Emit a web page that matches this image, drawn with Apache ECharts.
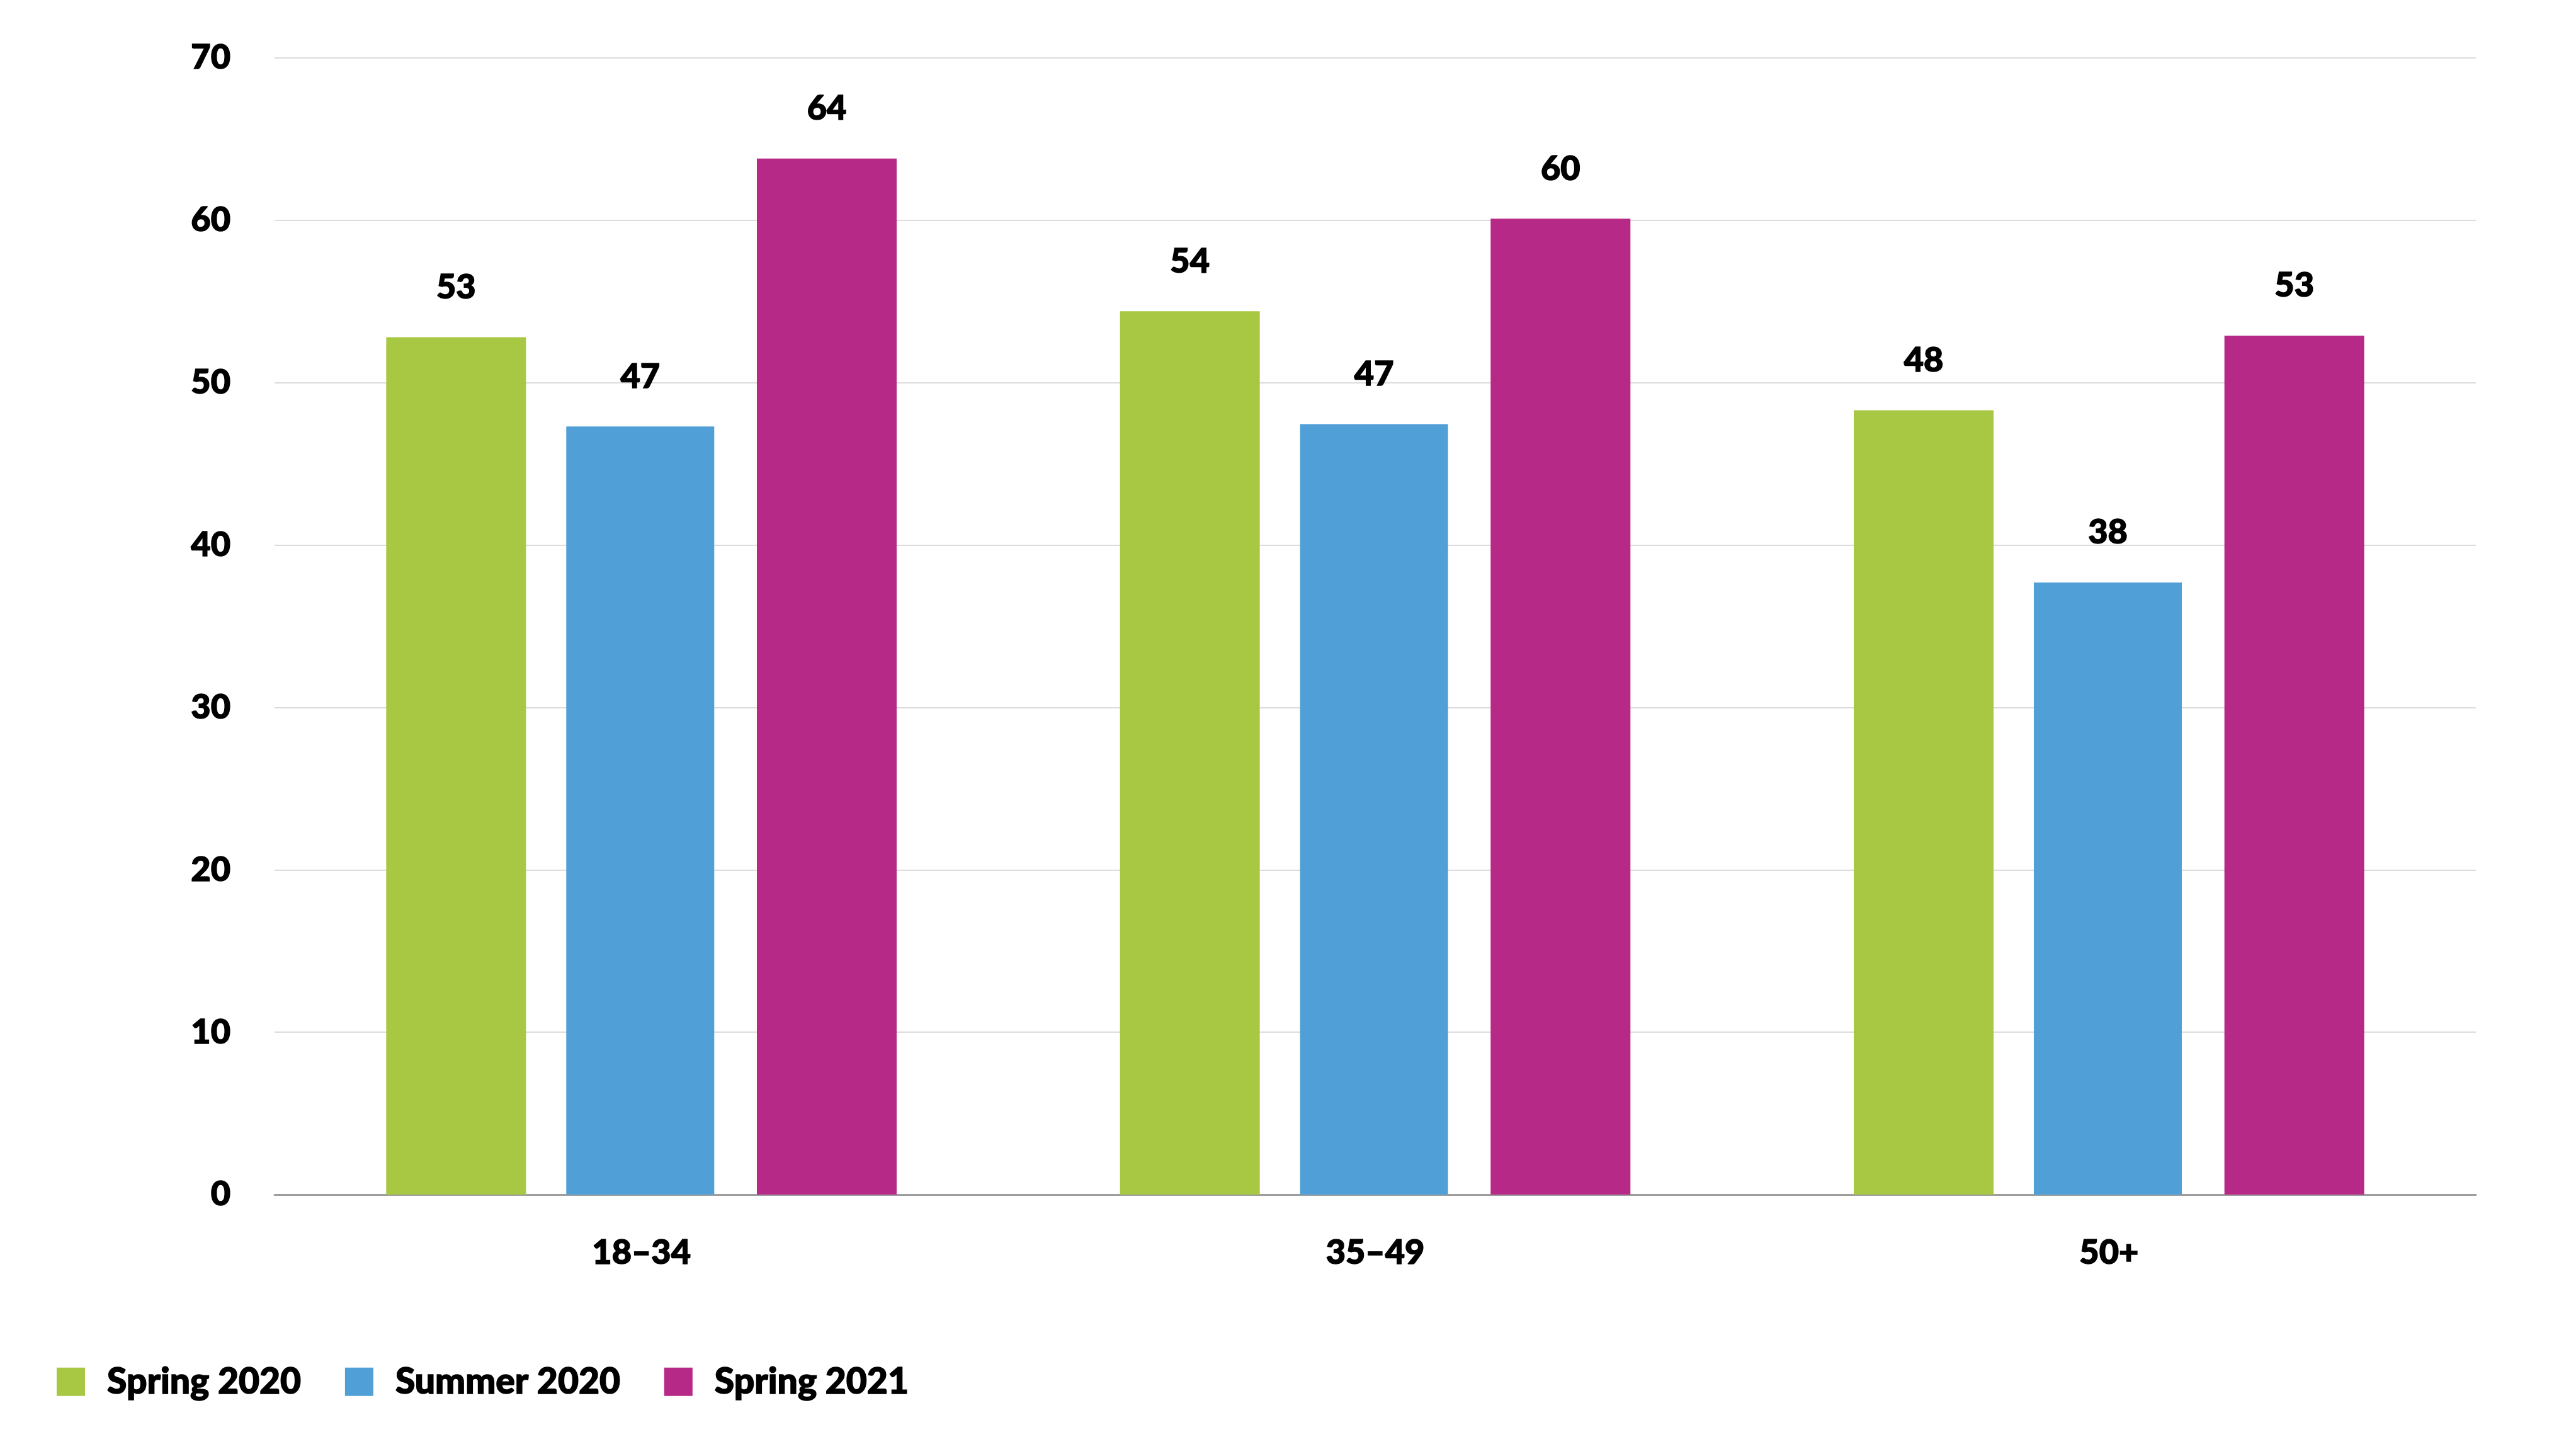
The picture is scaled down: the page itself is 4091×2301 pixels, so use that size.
<!DOCTYPE html>
<html>
<head>
<meta charset="utf-8">
<script src="https://cdn.jsdelivr.net/npm/echarts@6/dist/echarts.min.js"></script>
<style>
html,body{margin:0;padding:0;background:#fff;}
#chart{width:4091px;height:2301px;}
</style>
</head>
<body>
<div id="chart"></div>
<script>
const categories = ['18–34', '35–49', '50+'];
const seriesNames = ['Spring 2020', 'Summer 2020', 'Spring 2021'];
const spring2020 = [52.8, 54.4, 48.3];
const summer2020 = [47.3, 47.45, 37.7];
const spring2021 = [63.8, 60.1, 52.9];
const yTicks = [0, 10, 20, 30, 40, 50, 60, 70];
const colors = ['#A8C843', '#519FD7', '#B72987'];

const FONT = 'Lato';
const chart = echarts.init(document.getElementById('chart'), null, {renderer: 'canvas', devicePixelRatio: 1});

const heavy = {
  color: '#000',
  fontFamily: FONT,
  fontWeight: 900,
  fontSize: 54,
  textBorderColor: '#000',
  textBorderWidth: 1.5
};

const labelStyle = Object.assign({
  show: true,
  position: 'top',
  distance: 52,
  formatter: p => String(Math.round(p.value))
}, heavy);

function mk(name, data, color, width) {
  return {
    name: name,
    type: 'bar',
    data: data,
    barWidth: width,
    barGap: '28.8%',
    itemStyle: {color: color},
    label: labelStyle,
    emphasis: {disabled: true}
  };
}

chart.setOption({
  animation: false,
  backgroundColor: '#fff',
  grid: {left: 436, right: 159, top: 92, bottom: 404, containLabel: false},
  legend: {
    left: 85,
    top: 2160,
    itemWidth: 45,
    itemHeight: 45,
    itemGap: 69,
    icon: 'rect',
    data: seriesNames,
    textStyle: Object.assign({}, heavy, {fontSize: 57, padding: [0, 0, 0, 30]})
  },
  xAxis: {
    type: 'category',
    data: categories,
    axisTick: {show: false},
    axisLine: {show: true, lineStyle: {color: '#9e9e9e', width: 3}},
    axisLabel: Object.assign({margin: 66}, heavy)
  },
  yAxis: {
    type: 'value',
    min: yTicks[0],
    max: yTicks[yTicks.length - 1],
    interval: yTicks[1] - yTicks[0],
    axisLine: {show: false},
    axisTick: {show: false},
    splitLine: {lineStyle: {color: '#dcdcdc', width: 2}},
    axisLabel: Object.assign({margin: 70}, heavy)
  },
  series: [
    mk(seriesNames[0], spring2020, colors[0], 222),
    mk(seriesNames[1], summer2020, colors[1], 235),
    mk(seriesNames[2], spring2021, colors[2], 222)
  ]
});
</script>
</body>
</html>
